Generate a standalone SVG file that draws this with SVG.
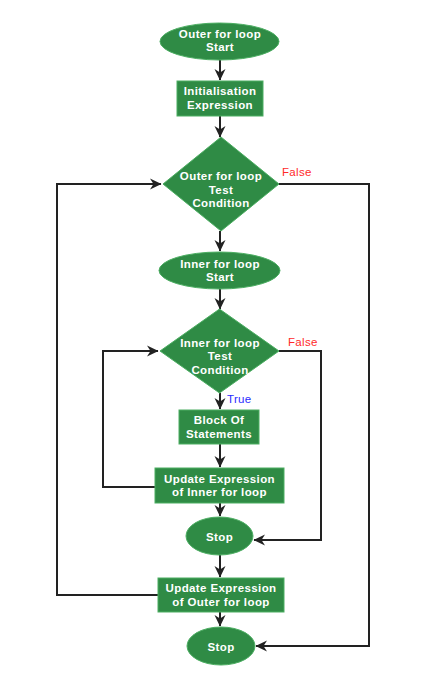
<svg xmlns="http://www.w3.org/2000/svg" width="430" height="699" viewBox="0 0 430 699">
<defs>
<marker id="ah" markerUnits="userSpaceOnUse" markerWidth="12" markerHeight="12" viewBox="0 0 12 12" refX="11" refY="6" orient="auto">
<path d="M0,0.5 L11.5,6 L0,11.5 L3.5,6 Z" fill="#222"/>
</marker>
</defs>
<style>
.sh{fill:#2f8b45;stroke:#4cae62;stroke-width:1}
.t{font-family:"Liberation Sans",Arial,sans-serif;font-weight:bold;font-size:11.5px;letter-spacing:0.4px;fill:#fff;text-anchor:middle}
.c{fill:none;stroke:#222;stroke-width:2}
.lf{font-family:"Liberation Sans",Arial,sans-serif;font-size:11.5px;letter-spacing:0.3px;fill:#ff2a2a}
.lt{font-family:"Liberation Sans",Arial,sans-serif;font-size:11.5px;letter-spacing:0.3px;fill:#2b2bff}
</style>
<rect width="430" height="699" fill="#fff"/>
<g id="connectors">
<line class="c" x1="220" y1="60" x2="220" y2="80" marker-end="url(#ah)"/>
<line class="c" x1="220" y1="116" x2="220" y2="137" marker-end="url(#ah)"/>
<line class="c" x1="220" y1="231" x2="220" y2="251" marker-end="url(#ah)"/>
<line class="c" x1="220" y1="289" x2="220" y2="309" marker-end="url(#ah)"/>
<line class="c" x1="220" y1="393" x2="220" y2="409" marker-end="url(#ah)"/>
<line class="c" x1="220" y1="444" x2="220" y2="467" marker-end="url(#ah)"/>
<line class="c" x1="220" y1="503" x2="220" y2="516" marker-end="url(#ah)"/>
<line class="c" x1="220" y1="555" x2="220" y2="577" marker-end="url(#ah)"/>
<line class="c" x1="220" y1="612" x2="220" y2="626" marker-end="url(#ah)"/>
<polyline class="c" points="279,184 369,184 369,646 256,646" marker-end="url(#ah)"/>
<polyline class="c" points="279,351 321,351 321,540 254,540" marker-end="url(#ah)"/>
<polyline class="c" points="155,487 103,487 103,351 158,351" marker-end="url(#ah)"/>
<polyline class="c" points="158,595 57,595 57,184 161,184" marker-end="url(#ah)"/>
<text class="lf" x="282" y="176">False</text>
<text class="lf" x="288" y="346">False</text>
<text class="lt" x="227" y="403">True</text>
</g>
<g id="outer-start">
<ellipse class="sh" cx="219.5" cy="41.5" rx="59.5" ry="18.5"/>
<text class="t" x="220" y="37.5">Outer for loop</text>
<text class="t" x="220" y="50.5">Start</text>
</g>
<g id="init">
<rect class="sh" x="177" y="81" width="86" height="35"/>
<text class="t" x="220" y="95">Initialisation</text>
<text class="t" x="220" y="108.5">Expression</text>
</g>
<g id="outer-test">
<polygon class="sh" points="221,137 279,184 221,231 163,184"/>
<text class="t" x="221" y="180">Outer for loop</text>
<text class="t" x="221" y="193.5">Test</text>
<text class="t" x="221" y="207">Condition</text>
</g>
<g id="inner-start">
<ellipse class="sh" cx="219.5" cy="270.5" rx="60.5" ry="18.5"/>
<text class="t" x="220" y="267.5">Inner for loop</text>
<text class="t" x="220" y="281">Start</text>
</g>
<g id="inner-test">
<polygon class="sh" points="219.5,309 279,351 219.5,393 160,351"/>
<text class="t" x="220" y="346.5">Inner for loop</text>
<text class="t" x="220" y="360">Test</text>
<text class="t" x="220" y="373.5">Condition</text>
</g>
<g id="block">
<rect class="sh" x="179" y="410" width="80" height="34"/>
<text class="t" x="219" y="424">Block Of</text>
<text class="t" x="219" y="437.5">Statements</text>
</g>
<g id="update-inner">
<rect class="sh" x="155" y="468" width="129" height="35"/>
<text class="t" x="219.5" y="482.5">Update Expression</text>
<text class="t" x="219.5" y="496">of Inner for loop</text>
</g>
<g id="stop1">
<ellipse class="sh" cx="219.5" cy="536" rx="33.5" ry="19"/>
<text class="t" x="219.5" y="540.5">Stop</text>
</g>
<g id="update-outer">
<rect class="sh" x="158" y="578" width="126" height="34"/>
<text class="t" x="221" y="592">Update Expression</text>
<text class="t" x="221" y="605.5">of Outer for loop</text>
</g>
<g id="stop2">
<ellipse class="sh" cx="221" cy="646" rx="34" ry="19"/>
<text class="t" x="221" y="650.5">Stop</text>
</g>
</svg>
